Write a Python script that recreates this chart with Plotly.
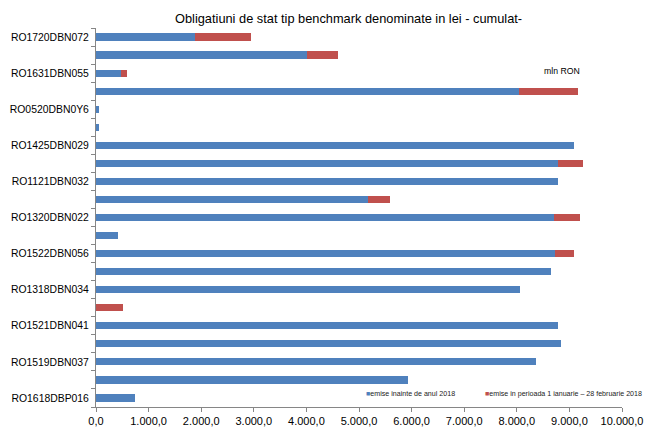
import plotly.graph_objects as go

categories = [
    "RO1720DBN072", "RO1827DBN011", "RO1631DBN055", "RO1623DBN027",
    "RO0520DBN0Y6", "RO0519DBN0Y4", "RO1425DBN029", "RO1722DBN045",
    "RO1121DBN032", "RO1828DBN043", "RO1320DBN022", "RO0419DBN0Y2",
    "RO1522DBN056", "RO1219DBN035", "RO1318DBN034", "RO1223DBN047",
    "RO1521DBN041", "RO1227DBN011", "RO1519DBN037", "RO1124DBN019",
    "RO1618DBP016",
]
labeled = {"RO1720DBN072", "RO1631DBN055", "RO0520DBN0Y6", "RO1425DBN029",
           "RO1121DBN032", "RO1320DBN022", "RO1522DBN056", "RO1318DBN034",
           "RO1521DBN041", "RO1519DBN037", "RO1618DBP016"}
before_2018 = [1875, 4015, 473, 8040, 63, 60, 9078, 8775, 8788, 5177, 8712,
               423, 8718, 8643, 8061, 0, 8788, 8838, 8365, 5928, 739]
in_2018 = [1080, 585, 115, 1125, 0, 0, 0, 475, 0, 420, 490,
           0, 370, 0, 0, 505, 0, 0, 0, 0, 0]
x_ticks = list(range(0, 10001, 1000))
series_names = ["emise inainte de anul 2018",
                "emise in perioada 1 ianuarie \u2013 28 februarie 2018"]
title = "Obligatiuni de stat tip benchmark denominate in lei - cumulat-"
unit = "mln RON"

BLUE = "#4F81BD"
RED = "#C0504D"
FONT = "Liberation Sans, Arial, sans-serif"

fig = go.Figure()
fig.add_trace(go.Bar(y=categories, x=before_2018, orientation="h", name=series_names[0],
                     marker=dict(color=BLUE, line=dict(width=0)), width=0.4))
fig.add_trace(go.Bar(y=categories, x=in_2018, orientation="h", name=series_names[1],
                     marker=dict(color=RED, line=dict(width=0)), width=0.4))

L, R, T, B = 96, 25, 28, 21
PW, PH = 647 - L - R, 428 - T - B

fig.update_layout(
    barmode="stack",
    width=647, height=428,
    margin=dict(l=L, r=R, t=T, b=B, autoexpand=False),
    paper_bgcolor="white", plot_bgcolor="white",
    font=dict(family=FONT, color="#000000", size=11),
    separators=",.",
    showlegend=False,
)
fig.update_xaxes(range=[0, 10000], tickvals=x_ticks, tickformat=",.1f",
                 showgrid=False, zeroline=False, showline=True, linecolor="#868686",
                 linewidth=1, ticks="outside", ticklen=4, tickcolor="#868686",
                 tickfont=dict(size=11), fixedrange=True)
fig.update_yaxes(type="category", autorange="reversed", tickvals=categories,
                 ticktext=[c if c in labeled else "" for c in categories],
                 tickson="boundaries", ticks="outside", ticklen=4, tickcolor="#868686",
                 showgrid=False, zeroline=False, showline=True, linecolor="#868686",
                 linewidth=1, tickfont=dict(size=10.4), ticklabelstandoff=4,
                 fixedrange=True)

def px_x(x):
    return (x - L) / PW

def px_y(y):
    return 1 - (y - T) / PH

# title
fig.add_annotation(text=title, xref="paper", yref="paper", x=px_x(348.5), y=px_y(18),
                   xanchor="center", yanchor="middle", showarrow=False,
                   font=dict(size=12.8, family=FONT))
# unit
fig.add_annotation(text=unit, xref="paper", yref="paper", x=px_x(582), y=px_y(71),
                   xanchor="right", yanchor="middle", showarrow=False,
                   font=dict(size=8.7, family=FONT))
# legend as text
fig.add_annotation(text=f"<span style='color:{BLUE}'>\u25a0</span>{series_names[0]}",
                   xref="paper", yref="paper", x=px_x(364), y=px_y(393.5),
                   xanchor="left", yanchor="middle", showarrow=False,
                   font=dict(size=7.1, family=FONT, color="#222"))
fig.add_annotation(text=f"<span style='color:{RED}'>\u25a0</span>{series_names[1]}",
                   xref="paper", yref="paper", x=px_x(482.5), y=px_y(393.5),
                   xanchor="left", yanchor="middle", showarrow=False,
                   font=dict(size=7.1, family=FONT, color="#222"))

fig.write_html("out.html", config={"displayModeBar": False},
               post_script="document.body.style.margin='0';")
